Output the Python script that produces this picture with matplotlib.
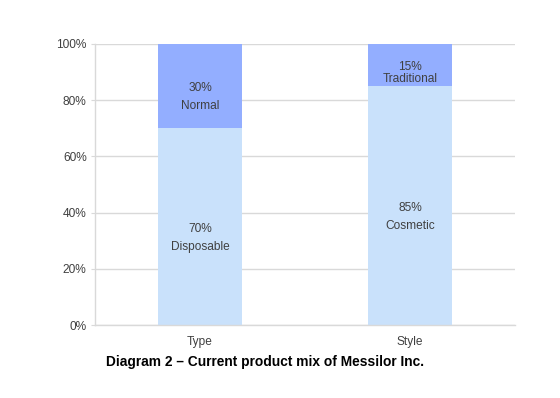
import matplotlib
matplotlib.use("Agg")
import matplotlib.pyplot as plt
import numpy as np

categories = ["Type", "Style"]
bottom_values = [0.70, 0.85]
bottom_names = ["Disposable", "Cosmetic"]
top_values = [0.30, 0.15]
top_names = ["Normal", "Traditional"]
yticks = [0, 0.2, 0.4, 0.6, 0.8, 1.0]
ytick_labels = ["0%", "20%", "40%", "60%", "80%", "100%"]
title = "Diagram 2 \u2013 Current product mix of Messilor Inc."

plt.rcParams['font.family'] = ['Liberation Sans', 'DejaVu Sans']
txt = '#404040'
c_bottom = '#C9E1FB'
c_top = '#93AEFF'
grid = '#D9D9D9'

fig = plt.figure(figsize=(5.6, 3.98), dpi=100)
ax = fig.add_axes([95/560, 1-325/398, 420/560, 281/398])
x = np.arange(len(categories))
ax.bar(x, bottom_values, width=0.4, color=c_bottom, zorder=2)
ax.bar(x, top_values, width=0.4, bottom=bottom_values, color=c_top, zorder=2)
ax.set_xlim(-0.5, 1.5)
ax.set_ylim(0, 1)
ax.set_yticks(yticks)
ax.set_yticklabels(ytick_labels)
ax.set_xticks(x)
ax.set_xticklabels(categories)
ax.tick_params(axis='x', length=0, pad=8, labelsize=8.6, labelcolor=txt)
ax.tick_params(axis='y', length=3, color=grid, pad=3, labelsize=8.6, labelcolor=txt)
ax.yaxis.grid(True, color=grid, lw=1, zorder=0)
for s in ['top', 'right']:
    ax.spines[s].set_visible(False)
for s in ['left', 'bottom']:
    ax.spines[s].set_color(grid)
    ax.spines[s].set_linewidth(1)

def label(xi, center, val, name):
    dy = -12 if val < 0.2 else -18
    ax.annotate(f"{val*100:.0f}%", (xi, center), xytext=(0, -2), textcoords='offset pixels',
                ha='center', va='center', fontsize=8.6, color=txt, zorder=3)
    ax.annotate(name, (xi, center), xytext=(0, dy - 2), textcoords='offset pixels',
                ha='center', va='center', fontsize=8.6, color=txt, zorder=3)

for i in range(len(categories)):
    label(x[i], bottom_values[i] / 2, bottom_values[i], bottom_names[i])
    label(x[i], bottom_values[i] + top_values[i] / 2, top_values[i], top_names[i])

fig.text(265/560, 1-362/398, title, ha='center', va='center', fontsize=9.9,
         fontweight='bold', color='black')

fig.savefig("out.png", dpi=100)
